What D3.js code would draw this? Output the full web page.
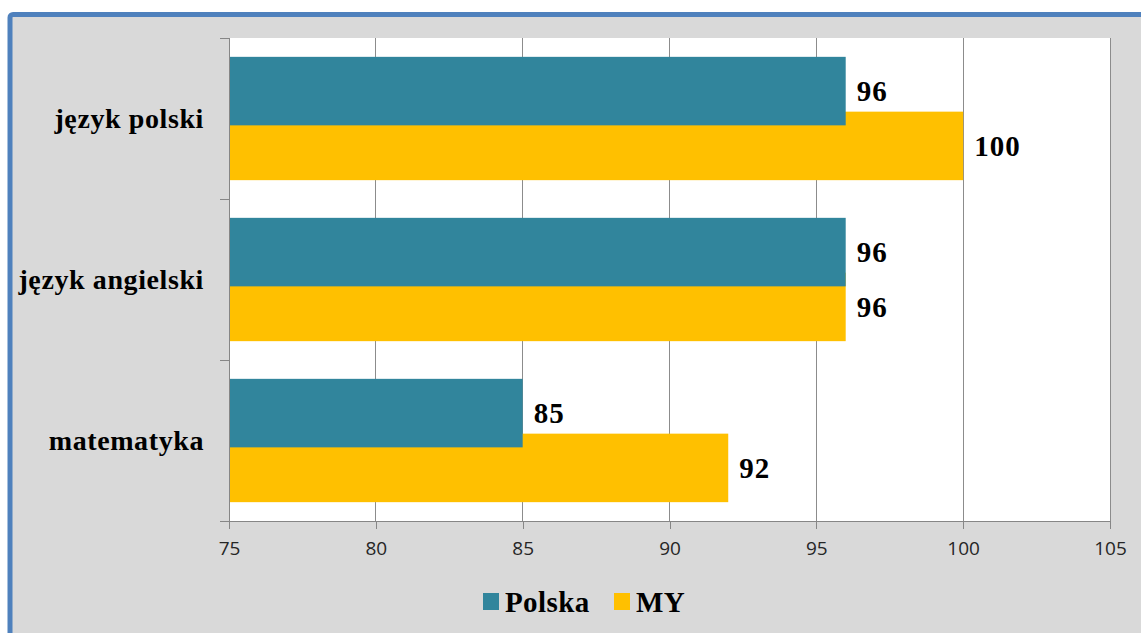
<!DOCTYPE html>
<html>
<head>
<meta charset="utf-8">
<script src="https://cdn.jsdelivr.net/npm/d3@7"></script>
<style>
  html, body { margin: 0; padding: 0; background: #ffffff; }
  svg { display: block; }
</style>
</head>
<body>
<svg id="chart" width="1141" height="633"></svg>
<script>
// data
var categories = ["język polski", "język angielski", "matematyka"];
var seriesNames = ["Polska", "MY"];
var polskaValues = [96, 96, 85];
var myValues = [100, 96, 92];
var xTicks = [75, 80, 85, 90, 95, 100, 105];

var colors = { "Polska": "#31859c", "MY": "#ffc000" };

var svg = d3.select("#chart");

// chart area: grey fill, blue frame on left/top (rest is off-picture)
svg.append("rect")
    .attr("x", 10).attr("y", 14.5)
    .attr("width", 1200).attr("height", 700)
    .attr("rx", 3)
    .attr("fill", "#d9d9d9")
    .attr("stroke", "#4f81bd")
    .attr("stroke-width", 5);

var plot = { left: 229, right: 1110, top: 38, bottom: 521 };

var x = d3.scaleLinear().domain([75, 105]).range([plot.left, plot.right]);
var y = d3.scaleBand().domain(categories).range([plot.top, plot.bottom]).padding(0);

// excel-like bar geometry
var gapWidth = 0.55, overlap = 0.2;
var barH = y.bandwidth() / (2 - overlap + gapWidth);
var offTop = barH * gapWidth / 2;

svg.append("rect")
    .attr("x", plot.left).attr("y", plot.top)
    .attr("width", plot.right - plot.left).attr("height", plot.bottom - plot.top)
    .attr("fill", "#ffffff");

// vertical gridlines
svg.append("g").selectAll("line")
    .data(xTicks.slice(1))
  .enter().append("line")
    .attr("x1", function(d) { return x(d); }).attr("x2", function(d) { return x(d); })
    .attr("y1", plot.top).attr("y2", plot.bottom)
    .attr("stroke", "#8c8c8c").attr("stroke-width", 1)
    .attr("shape-rendering", "crispEdges");

var rows = categories.map(function(c, i) {
    return { cat: c, Polska: polskaValues[i], MY: myValues[i] };
});

// MY first so Polska overlaps it
var yellowY = function(d) { return y(d.cat) + offTop + barH * (1 - overlap); };
var blueY = function(d) { return y(d.cat) + offTop; };

svg.append("g").selectAll("rect")
    .data(rows)
  .enter().append("rect")
    .attr("x", x(75))
    .attr("y", yellowY)
    .attr("width", function(d) { return x(d.MY) - x(75); })
    .attr("height", barH)
    .attr("fill", colors.MY);

svg.append("g").selectAll("rect")
    .data(rows)
  .enter().append("rect")
    .attr("x", x(75))
    .attr("y", blueY)
    .attr("width", function(d) { return x(d.Polska) - x(75); })
    .attr("height", barH)
    .attr("fill", colors.Polska);

// value labels
var labelFont = "'Liberation Serif', 'Times New Roman', serif";
function valueLabels(key, yFn) {
    svg.append("g").selectAll("text")
        .data(rows)
      .enter().append("text")
        .attr("x", function(d) { return x(d[key]) + 11; })
        .attr("y", function(d) { return yFn(d) + barH / 2; })
        .attr("dy", "0.34em")
        .style("font-family", labelFont)
        .style("font-weight", "bold")
        .style("font-size", "29px")
        .style("letter-spacing", "1px")
        .attr("fill", "#000")
        .text(function(d) { return d[key]; });
}
valueLabels("MY", yellowY);
valueLabels("Polska", blueY);

// x axis
var xAxis = d3.axisBottom(x).tickValues(xTicks).tickSize(8).tickPadding(13);
var gx = svg.append("g")
    .attr("transform", "translate(0," + plot.bottom + ")")
    .call(xAxis);
gx.selectAll("path, line").attr("stroke", "#868686").attr("shape-rendering", "crispEdges");
gx.select(".domain").attr("d", "M" + plot.left + ",0H" + plot.right);
gx.selectAll("text")
    .style("font-family", "'Open Sans', sans-serif")
    .style("font-size", "19px")
    .attr("fill", "#262626");

// y axis: ticks at category boundaries
var gy = svg.append("g");
gy.append("line")
    .attr("x1", plot.left).attr("x2", plot.left)
    .attr("y1", plot.top).attr("y2", plot.bottom)
    .attr("stroke", "#868686").attr("shape-rendering", "crispEdges");
gy.selectAll("line.tick")
    .data(categories.concat([null]))
  .enter().append("line")
    .attr("class", "tick")
    .attr("x1", plot.left - 9).attr("x2", plot.left)
    .attr("y1", function(d) { return d === null ? plot.bottom : y(d); })
    .attr("y2", function(d) { return d === null ? plot.bottom : y(d); })
    .attr("stroke", "#868686").attr("shape-rendering", "crispEdges");
gy.selectAll("text")
    .data(categories)
  .enter().append("text")
    .attr("x", plot.left - 25)
    .attr("y", function(d) { return y(d) + y.bandwidth() / 2; })
    .attr("dy", "0.34em")
    .attr("text-anchor", "end")
    .style("font-family", labelFont)
    .style("font-weight", "bold")
    .style("font-size", "28px")
    .style("letter-spacing", "0.6px")
    .attr("fill", "#000")
    .text(function(d) { return d; });

// legend
var legendX = [483, 614];
var lg = svg.append("g").selectAll("g")
    .data(seriesNames)
  .enter().append("g")
    .attr("transform", function(d, i) { return "translate(" + legendX[i] + ",593)"; });
lg.append("rect")
    .attr("width", 16).attr("height", 17)
    .attr("fill", function(d) { return colors[d]; });
lg.append("text")
    .attr("x", 22).attr("y", 19)
    .style("font-family", labelFont)
    .style("font-weight", "bold")
    .style("font-size", "29px")
    .style("letter-spacing", "0.4px")
    .attr("fill", "#000")
    .text(function(d) { return d; });
</script>
</body>
</html>
